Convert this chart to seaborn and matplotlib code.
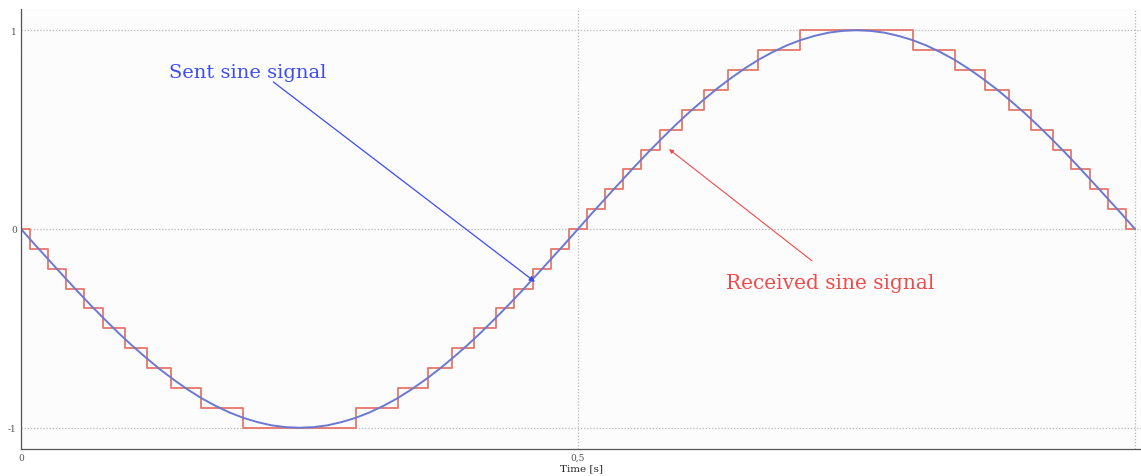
import pandas as pd
import matplotlib
matplotlib.use("Agg")
import matplotlib.pyplot as plt
import seaborn as sns

# sent sine, every 0.0125 s
sent_t = [0.0000, 0.0125, 0.0250, 0.0375, 0.0500, 0.0625, 0.0750, 0.0875, 0.1000, 0.1125,
          0.1250, 0.1375, 0.1500, 0.1625, 0.1750, 0.1875, 0.2000, 0.2125, 0.2250, 0.2375,
          0.2500, 0.2625, 0.2750, 0.2875, 0.3000, 0.3125, 0.3250, 0.3375, 0.3500, 0.3625,
          0.3750, 0.3875, 0.4000, 0.4125, 0.4250, 0.4375, 0.4500, 0.4625, 0.4750, 0.4875,
          0.5000, 0.5125, 0.5250, 0.5375, 0.5500, 0.5625, 0.5750, 0.5875, 0.6000, 0.6125,
          0.6250, 0.6375, 0.6500, 0.6625, 0.6750, 0.6875, 0.7000, 0.7125, 0.7250, 0.7375,
          0.7500, 0.7625, 0.7750, 0.7875, 0.8000, 0.8125, 0.8250, 0.8375, 0.8500, 0.8625,
          0.8750, 0.8875, 0.9000, 0.9125, 0.9250, 0.9375, 0.9500, 0.9625, 0.9750, 0.9875,
          1.0000]
sent_v = [0.000, -0.079, -0.156, -0.233, -0.309, -0.383, -0.454, -0.523, -0.588, -0.649,
          -0.707, -0.760, -0.809, -0.853, -0.891, -0.924, -0.951, -0.972, -0.988, -0.997,
          -1.000, -0.997, -0.988, -0.972, -0.951, -0.924, -0.891, -0.853, -0.809, -0.760,
          -0.707, -0.649, -0.588, -0.523, -0.454, -0.383, -0.309, -0.233, -0.156, -0.079,
          0.000, 0.079, 0.156, 0.233, 0.309, 0.383, 0.454, 0.523, 0.588, 0.649,
          0.707, 0.760, 0.809, 0.853, 0.891, 0.924, 0.951, 0.972, 0.988, 0.997,
          1.000, 0.997, 0.988, 0.972, 0.951, 0.924, 0.891, 0.853, 0.809, 0.760,
          0.707, 0.649, 0.588, 0.523, 0.454, 0.383, 0.309, 0.233, 0.156, 0.079,
          0.000]

# received (quantised) signal: time where each level starts, and the level
recv_t = [0.000, 0.008, 0.024, 0.040, 0.057, 0.074, 0.093, 0.113, 0.135, 0.162,
          0.199, 0.301, 0.338, 0.365, 0.387, 0.407, 0.426, 0.443, 0.460, 0.476,
          0.492, 0.508, 0.524, 0.540, 0.557, 0.574, 0.593, 0.613, 0.635, 0.662,
          0.699, 0.801, 0.838, 0.865, 0.887, 0.907, 0.926, 0.943, 0.960, 0.976,
          0.992, 1.000]
recv_v = [0.0, -0.1, -0.2, -0.3, -0.4, -0.5, -0.6, -0.7, -0.8, -0.9,
          -1.0, -0.9, -0.8, -0.7, -0.6, -0.5, -0.4, -0.3, -0.2, -0.1,
          0.0, 0.1, 0.2, 0.3, 0.4, 0.5, 0.6, 0.7, 0.8, 0.9,
          1.0, 0.9, 0.8, 0.7, 0.6, 0.5, 0.4, 0.3, 0.2, 0.1,
          0.0, 0.0]

x_ticks = [0, 0.5, 1]
x_labels = ["0", "0,5", ""]
y_ticks = [-1, 0, 1]
y_labels = ["-1", "0", "1"]

sent = pd.DataFrame({"t": sent_t, "v": sent_v})
recv = pd.DataFrame({"t": recv_t, "v": recv_v})

sns.set_style("white")
plt.rcParams["font.family"] = ["DejaVu Serif"]

fig = plt.figure(figsize=(11.41, 4.77), dpi=100)
ax = fig.add_axes([21 / 1141, 1 - 450 / 477, 1 - 21 / 1141, 440 / 477])
ax.set_facecolor("#fcfcfc")

sns.lineplot(data=recv, x="t", y="v", ax=ax, color="#e8756a", lw=1.3,
             drawstyle="steps-post", estimator=None, sort=False)
sns.lineplot(data=sent, x="t", y="v", ax=ax, color="#6b78d2", lw=1.4,
             estimator=None, sort=False)

ax.set_xlim(0, 1.0054)
ax.set_ylim(-1.107, 1.107)
ax.set_xticks(x_ticks)
ax.set_xticklabels(x_labels)
ax.set_yticks(y_ticks)
ax.set_yticklabels(y_labels)
ax.tick_params(direction="in", length=8, width=0.8, color="#555555",
               labelsize=6.5, labelcolor="#555555", pad=3)
ax.grid(True, linestyle=(0, (1, 1.5)), color="#b8b8b8", lw=0.9)
for s in ["top", "right"]:
    ax.spines[s].set_visible(False)
for s in ["left", "bottom"]:
    ax.spines[s].set_color("#555555")
    ax.spines[s].set_linewidth(0.9)

ax.set_xlabel("Time [s]", fontsize=7.5, labelpad=1)
ax.set_ylabel("")

# labels and arrows
blue = "#3d4cf2"
red = "#f04a4a"
ax.text(0.2038, 0.79, "Sent sine signal", color=blue, fontsize=14,
        ha="center", va="center")
ax.annotate("", xy=(0.4614, -0.266), xytext=(0.2265, 0.74),
            arrowprops=dict(arrowstyle="-|>", color=blue, lw=0.9,
                            shrinkA=0, shrinkB=0, mutation_scale=8))
ax.text(0.726, -0.271, "Received sine signal", color=red, fontsize=14.5,
        ha="center", va="center")
ax.annotate("", xy=(0.5817, 0.402), xytext=(0.710, -0.16),
            arrowprops=dict(arrowstyle="-|>", color=red, lw=0.8,
                            shrinkA=0, shrinkB=0, mutation_scale=6))

fig.savefig("out.png", dpi=100)
